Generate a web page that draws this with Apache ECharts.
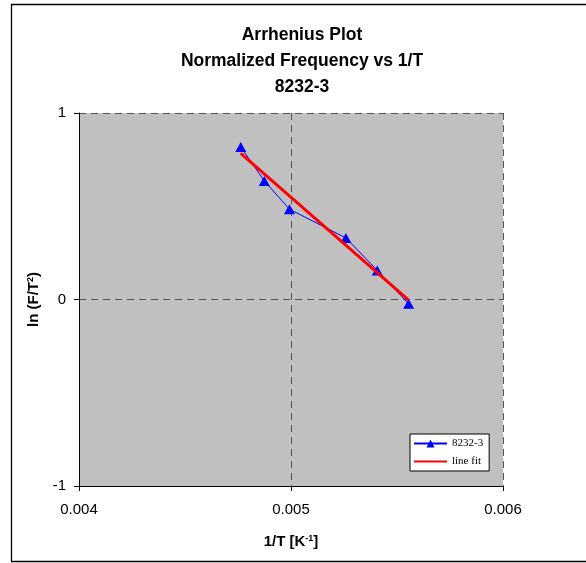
<!DOCTYPE html>
<html>
<head>
<meta charset="utf-8">
<script src="https://cdn.jsdelivr.net/npm/echarts@6/dist/echarts.min.js"></script>
<style>html,body{margin:0;padding:0;background:#fff}#c{width:586px;height:563px}</style>
</head>
<body>
<div id="c"></div>
<script>
// Data
const invT = [0.004763, 0.004874, 0.004993, 0.005259, 0.005407, 0.005555];
const lnFT2 = [0.818, 0.636, 0.484, 0.33, 0.156, -0.023];
const fitX = [0.004763, 0.005555];
const fitY = [0.784, -0.003];
const xTicks = [0.004, 0.005, 0.006];
const yTicks = [-1, 0, 1];
const seriesName = '8232-3';
const fitName = 'line fit';

const chart = echarts.init(document.getElementById('c'), null, {renderer: 'canvas'});
const sans = 'Liberation Sans, Arial, sans-serif';
const dash = {color: '#555555', width: 1, type: [7, 5]};

chart.setOption({
  animation: false,
  backgroundColor: '#ffffff',
  title: {
    text: 'Arrhenius Plot\nNormalized Frequency vs 1/T\n8232-3',
    left: 302, top: 22.5, textAlign: 'center', padding: 0,
    textStyle: {fontFamily: sans, fontSize: 17.5, fontWeight: 'bold', color: '#000', lineHeight: 25.7}
  },
  graphic: [{
    type: 'rect', silent: true, z: -1,
    shape: {x: 11.5, y: 4.5, width: 600, height: 557},
    style: {fill: 'none', stroke: '#000', lineWidth: 1.3}
  }],
  legend: {
    orient: 'vertical', left: 410, top: 434,
    padding: [4, 6, 4, 3], itemGap: 7, itemWidth: 33, itemHeight: 10,
    backgroundColor: '#ffffff', borderColor: '#000', borderWidth: 1, borderRadius: 0,
    textStyle: {fontFamily: 'Liberation Serif, Times New Roman, serif', fontSize: 11, color: '#000'},
    data: [seriesName, {name: fitName, itemStyle: {opacity: 0}}]
  },
  grid: {
    left: 79, top: 113, right: 83, bottom: 77,
    show: true, backgroundColor: '#C0C0C0', borderWidth: 0, containLabel: false
  },
  xAxis: {
    type: 'value', min: xTicks[0], max: xTicks[xTicks.length - 1], interval: 0.001,
    name: '1/T [K{sup|-1}]', nameLocation: 'middle', nameGap: 48,
    nameTextStyle: {fontFamily: sans, fontSize: 15, fontWeight: 'bold', color: '#000', lineHeight: 16,
      rich: {sup: {fontFamily: sans, fontSize: 9, fontWeight: 'bold', color: '#000', verticalAlign: 'top', lineHeight: 16, padding: [0,0,6,0]}}},
    axisLine: {show: true, onZero: false, lineStyle: {color: '#000', width: 1}},
    axisTick: {show: true, inside: false, length: 5, lineStyle: {color: '#000'}},
    axisLabel: {fontFamily: sans, fontSize: 15, color: '#000', margin: 16,
      formatter: v => xTicks.find(t => Math.abs(t - v) < 1e-9) !== undefined ? v.toFixed(3) : ''},
    splitLine: {show: true, lineStyle: dash}
  },
  yAxis: {
    type: 'value', min: yTicks[0], max: yTicks[yTicks.length - 1], interval: 1,
    name: 'ln (F/T{sup|2})', nameLocation: 'middle', nameGap: 36, nameRotate: 90,
    nameTextStyle: {fontFamily: sans, fontSize: 15, fontWeight: 'bold', color: '#000', lineHeight: 16,
      rich: {sup: {fontFamily: sans, fontSize: 9, fontWeight: 'bold', color: '#000', verticalAlign: 'top', lineHeight: 16, padding: [0,0,6,0]}}},
    axisLine: {show: true, onZero: false, lineStyle: {color: '#000', width: 1}},
    axisTick: {show: true, inside: false, length: 5, lineStyle: {color: '#000'}},
    axisLabel: {fontFamily: sans, fontSize: 15, color: '#000', margin: 13},
    splitLine: {show: true, lineStyle: dash}
  },
  series: [{
    name: seriesName, type: 'line',
    data: invT.map((x, i) => [x, lnFT2[i]]),
    symbol: 'triangle', symbolSize: [11, 10],
    itemStyle: {color: '#0000FF'},
    lineStyle: {color: '#0000FF', width: 1},
    z: 3
  }, {
    name: fitName, type: 'line',
    data: fitX.map((x, i) => [x, fitY[i]]),
    symbol: 'none', showSymbol: false,
    lineStyle: {color: '#FF0000', width: 3},
    itemStyle: {color: '#FF0000'},
    z: 4
  }]
});
</script>
</body>
</html>
